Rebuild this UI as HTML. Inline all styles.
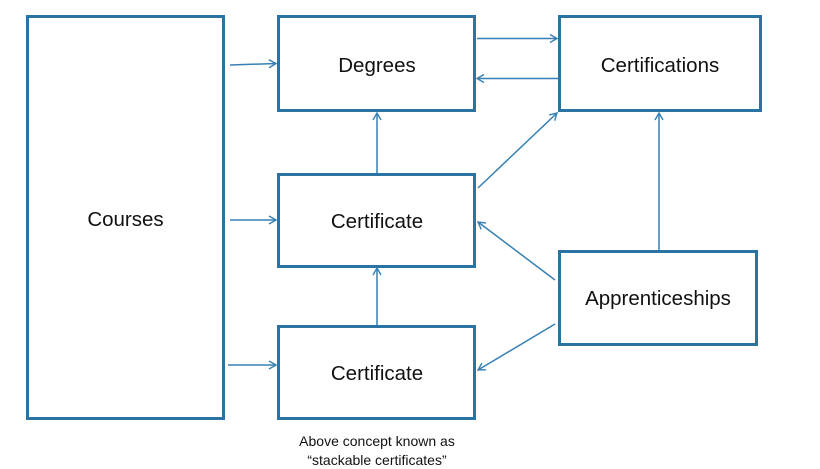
<!DOCTYPE html>
<html>
<head>
<meta charset="utf-8">
<style>
  html, body { margin: 0; padding: 0; background: #ffffff; }
  body { width: 820px; height: 469px; overflow: hidden; }
  svg { display: block; }
  text { font-family: "Liberation Sans", Arial, sans-serif; fill: #111; }
</style>
</head>
<body>
<svg width="820" height="469" viewBox="0 0 820 469" xmlns="http://www.w3.org/2000/svg">
  <defs>
    <marker id="ah" markerWidth="12" markerHeight="12" refX="9" refY="5" orient="auto" markerUnits="userSpaceOnUse">
      <path d="M2,1 L9,5 L2,9" fill="none" stroke="#3680b5" stroke-width="1.4"/>
    </marker>
  </defs>
  <rect width="820" height="469" fill="#fff"/>

  <!-- boxes -->
  <g fill="#fff" stroke="#2b73a3" stroke-width="3">
    <rect x="27.5" y="16.5" width="196" height="402"/>
    <rect x="278.5" y="16.5" width="196" height="94"/>
    <rect x="559.5" y="16.5" width="201" height="94"/>
    <rect x="278.5" y="174.5" width="196" height="92"/>
    <rect x="278.5" y="326.5" width="196" height="92"/>
    <rect x="559.5" y="251.5" width="197" height="93"/>
  </g>

  <!-- connectors -->
  <g stroke="#3680b5" stroke-width="1.5" fill="none" marker-end="url(#ah)">
    <line x1="230" y1="65" x2="276" y2="63.5"/>
    <line x1="230" y1="220" x2="276" y2="220"/>
    <line x1="228" y1="365" x2="276" y2="365"/>
    <line x1="477" y1="38.5" x2="557" y2="38.5"/>
    <line x1="558" y1="78.5" x2="477" y2="78.5"/>
    <line x1="377" y1="173" x2="377" y2="113"/>
    <line x1="478" y1="188" x2="557" y2="113"/>
    <line x1="555" y1="280" x2="478" y2="222"/>
    <line x1="555" y1="324" x2="478" y2="370"/>
    <line x1="659" y1="250" x2="659" y2="113"/>
    <line x1="377" y1="325" x2="377" y2="268"/>
  </g>

  <!-- labels -->
  <g font-size="20.5" text-anchor="middle">
    <text x="125.5" y="226">Courses</text>
    <text x="377" y="72">Degrees</text>
    <text x="660" y="72">Certifications</text>
    <text x="377" y="228">Certificate</text>
    <text x="377" y="380">Certificate</text>
    <text x="658" y="305">Apprenticeships</text>
  </g>
  <g font-size="14" text-anchor="middle">
    <text x="377" y="446">Above concept known as</text>
    <text x="377" y="465">“stackable certificates”</text>
  </g>
</svg>
</body>
</html>
